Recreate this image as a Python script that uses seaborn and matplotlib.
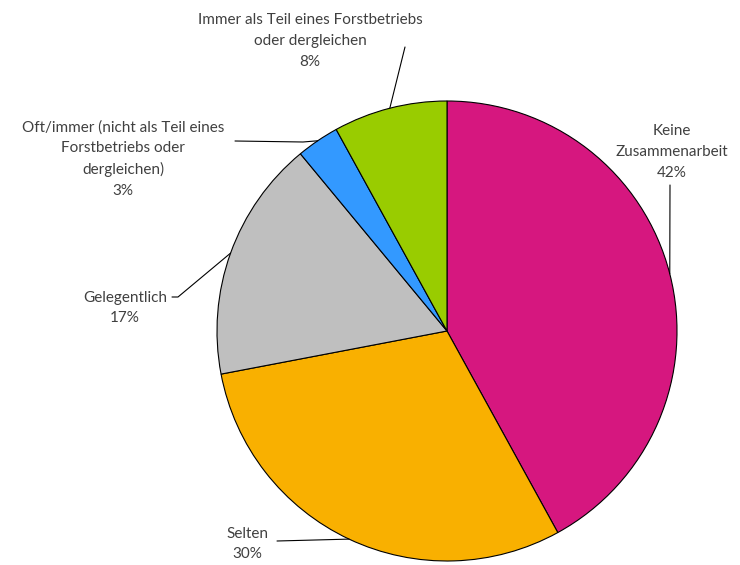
import numpy as np
import matplotlib.pyplot as plt
import seaborn as sns

# Anteile der Zusammenarbeit
labels = ["Keine\nZusammenarbeit", "Selten", "Gelegentlich",
          "Oft/immer (nicht als Teil eines\nForstbetriebs oder\ndergleichen)",
          "Immer als Teil eines Forstbetriebs\noder dergleichen"]
shares = [42, 30, 17, 3, 8]
colors = ["#D6177F", "#F9B000", "#BFBFBF", "#3399FF", "#99CC00"]

W, H = 740, 565


def py(y):
    # pixel row from top -> data y (upwards)
    return H - y


sns.set_theme(style="white")
plt.rcParams['font.family'] = ['Lato', 'DejaVu Sans']

fig = plt.figure(figsize=(7.4, 5.65), dpi=100)
ax = fig.add_axes([0, 0, 1, 1])

cx, cy, r = 447, py(331), 230
wedges, _ = ax.pie(shares, colors=colors, startangle=90, counterclock=False,
                   radius=r, center=(cx, cy),
                   wedgeprops=dict(edgecolor="black", linewidth=0.8))
ax.set_xlim(0, W)
ax.set_ylim(0, H)
ax.set_aspect("equal")
ax.axis("off")

# label block centre and leader path (pixel coords from top)
text_pos = [(672, 152), (247, 544), (125, 308), (123, 159), (310, 41)]
leader_pts = [[(670, 185)],
              [(277, 541)],
              [(172, 297), (178, 297)],
              [(235, 141), (303, 142)],
              [(405, 47)]]

for w, lab, val, (tx, ty), pts in zip(wedges, labels, shares, text_pos, leader_pts):
    mid = np.deg2rad((w.theta1 + w.theta2) / 2)
    ax_ = cx + r * np.cos(mid)
    ay_ = cy + r * np.sin(mid)
    ax.text(tx, py(ty), f"{lab}\n{val}%", ha="center", va="center",
            multialignment="center", fontsize=11, color="#404040",
            linespacing=1.6)
    xs = [p[0] for p in pts] + [ax_]
    ys = [py(p[1]) for p in pts] + [ay_]
    ax.plot(xs, ys, color="black", lw=0.8, zorder=5)

plt.savefig("out.png", dpi=100)
